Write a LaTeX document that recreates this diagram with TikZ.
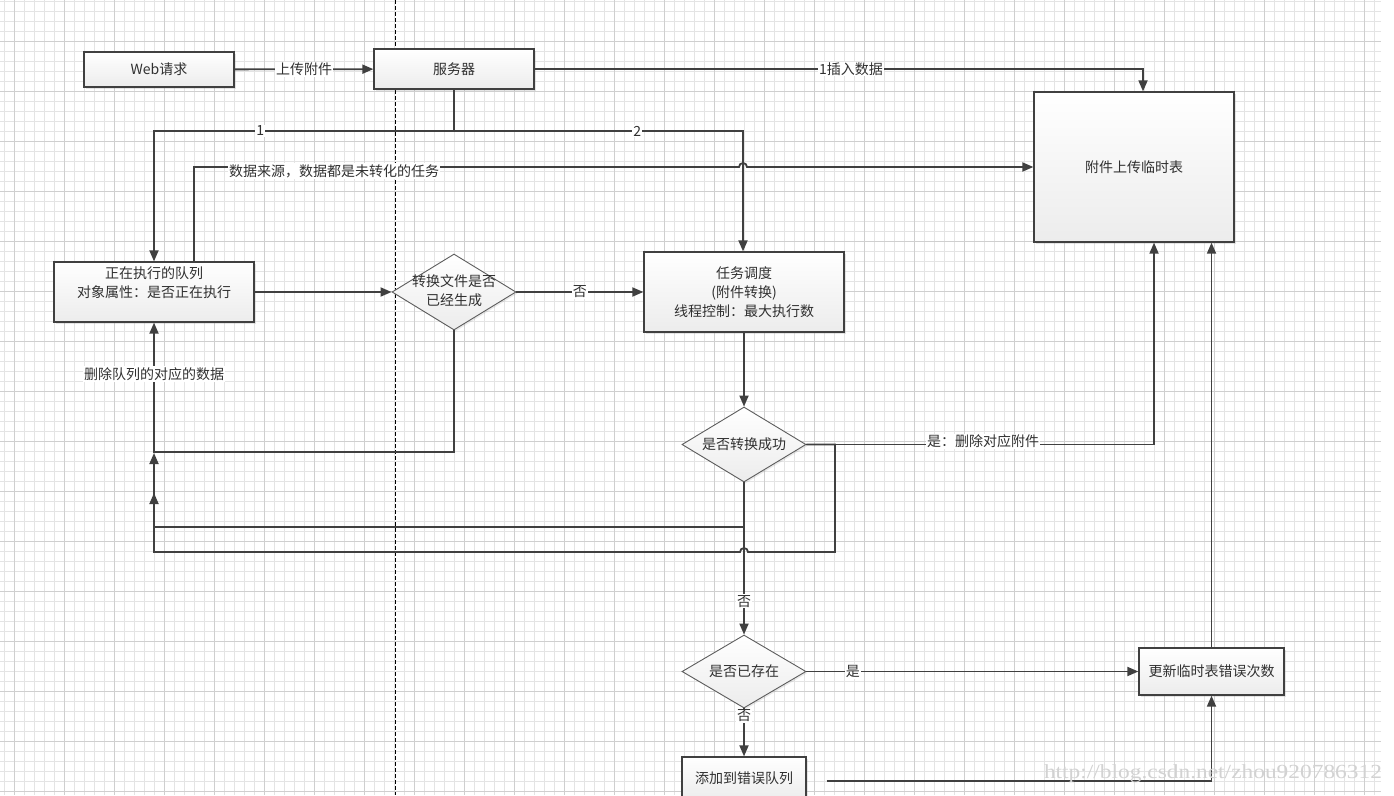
\documentclass[tikz,border=0pt]{standalone}
\usepackage{fontspec}
\setmainfont{Noto Sans CJK SC}
\newfontfamily\wmfont{Liberation Serif}
\usetikzlibrary{arrows.meta,shapes.geometric,shadows}
\definecolor{ln}{HTML}{404040}
\definecolor{tx}{HTML}{303030}
\definecolor{gmin}{HTML}{E4E4E4}
\definecolor{gmaj}{HTML}{CFCFCF}
\definecolor{boxbot}{HTML}{ECECEC}
\begin{document}
\begin{tikzpicture}[x=1pt,y=-1pt,
  txt/.style={font=\fontsize{14}{19}\selectfont, text=tx},
  box/.style={txt, draw=ln, line width=1.3pt, rectangle, top color=white, bottom color=boxbot,
    drop shadow={shadow xshift=1.5pt, shadow yshift=-1.5pt, opacity=0.2}, align=center, inner sep=2pt},
  dia/.style={draw=ln!85, line width=0.9pt, diamond, top color=white, bottom color=boxbot,
    minimum width=124pt, minimum height=76pt, inner sep=0pt,
    drop shadow={shadow xshift=1.5pt, shadow yshift=-1.5pt, opacity=0.16}},
  conn/.style={draw=ln, line width=1.8pt},
  arr/.style={conn, -{Triangle[length=11pt,width=9pt]}},
  lbl/.style={txt, fill=white, inner sep=1pt},
]
\useasboundingbox (0,0) rectangle (1394,795);
\clip (0,0) rectangle (1394,795);
\fill[white] (0,0) rectangle (1394,795);
% grid
\foreach \i in {0,...,137} {\draw[gmin, line width=0.7pt] (4+10*\i,0) -- (4+10*\i,795);}
\foreach \j in {0,...,79} {\draw[gmin, line width=0.7pt] (0,1.7+10*\j) -- (1381,1.7+10*\j);}
\foreach \i in {0,...,27} {\draw[gmaj, line width=0.8pt] (14+50*\i,0) -- (14+50*\i,795);}
\foreach \j in {0,...,15} {\draw[gmaj, line width=0.8pt] (0,41.7+50*\j) -- (1381,41.7+50*\j);}
% dashed separator
\draw[black, line width=0.8pt, dash pattern=on 4pt off 2pt] (395,0) -- (395,795);

% nodes
\node[box, minimum width=150pt, minimum height=35pt] (web) at (159,69.5) {Web请求};
\node[box, minimum width=160pt, minimum height=40pt] (srv) at (454,69) {服务器};
\node[box, minimum width=200pt, minimum height=150pt] (tmp) at (1134,167) {附件上传临时表};
\node[box, minimum width=200pt, minimum height=60pt] (run) at (154,292) {正在执行的队列\\对象属性：是否正在执行\\\mbox{}};
\node[dia] (d1) at (454,292) {};
\node[txt, align=center] (d1t) at (454,291) {转换文件是否\\已经生成};
\node[box, minimum width=200pt, minimum height=80pt] (sch) at (744,292) {任务调度\\(附件转换)\\线程控制：最大执行数};
\node[dia, minimum height=75pt] (d2) at (744,444.5) {};
\node[txt] (d2t) at (744,444) {是否转换成功};
\node[dia, minimum height=73pt] (d3) at (744,671.5) {};
\node[txt] (d3t) at (744,671) {是否已存在};
\node[box, minimum width=145pt, minimum height=47pt] (upd) at (1211.5,671.5) {更新临时表错误次数};
\node[box, minimum width=124pt, minimum height=43pt] (err) at (744,778.5) {添加到错误队列};

% coordinates
\coordinate (j1) at (454,131);
\coordinate (bA) at (154,453);
\coordinate (bB) at (154,493);
\coordinate (sA) at (744,527);

% connectors
\draw[arr] (web) -- node[lbl]{上传附件} (srv);
\draw[arr] (srv.east) -| node[lbl, pos=0.26]{1插入数据} ([xshift=9pt]tmp.north);
\draw[conn] (srv.south) -- (j1);
\draw[arr] (j1) -| node[lbl, pos=0.323]{1} (run.north);
\draw[arr] (j1) -| node[lbl, pos=0.317]{2} ([xshift=-1pt]sch.north);
\draw[arr] ([xshift=40pt]run.north) -- ([xshift=40pt]run.north |- tmp.west) -- (739,167)
   arc[start angle=180, end angle=0, radius=4pt] -- (tmp.west);
\node[lbl] (srcl) at (334,171) {数据来源，数据都是未转化的任务};
\draw[arr] (run) -- (d1);
\draw[arr] (d1) -- node[lbl]{否} (sch);
\draw[arr] (d1.south) -- (d1.south |- 0,452) -| (run.south);
\node[lbl] (dell) at (154,374) {删除队列的对应的数据};
\draw[arr] (sch) -- (d2);
\draw[arr] (d2.east) -| node[lbl, pos=0.254, yshift=3pt]{是：删除对应附件} ([xshift=20pt]tmp.south);
\draw[arr] (d2.east) -- (835,444.5) -- (835,552) -- (748,552)
   arc[start angle=0, end angle=180, radius=4pt] -- (154,552) -- (bB);
\draw[arr] (sA) -- (154,527) -- (bA);
\draw[arr] (d2) -- node[lbl, pos=0.78]{否} (d3);
\draw[arr] (d3) -- node[lbl, pos=0.14]{是} (upd);
\draw[arr] (d3) -- node[lbl, pos=0.15]{否} (err);
\draw[arr] (upd.north) -- (upd.north |- tmp.south);
\draw[arr] ([xshift=20pt]err.east |- 0,781) -| (upd.south);

% watermark
\node[font=\wmfont\fontsize{20}{20}\selectfont, text=gray!35] (wm) at (1213,774) {\scalebox{1.17}[1]{http://blog.csdn.net/zhou920786312}};
\end{tikzpicture}
\end{document}
